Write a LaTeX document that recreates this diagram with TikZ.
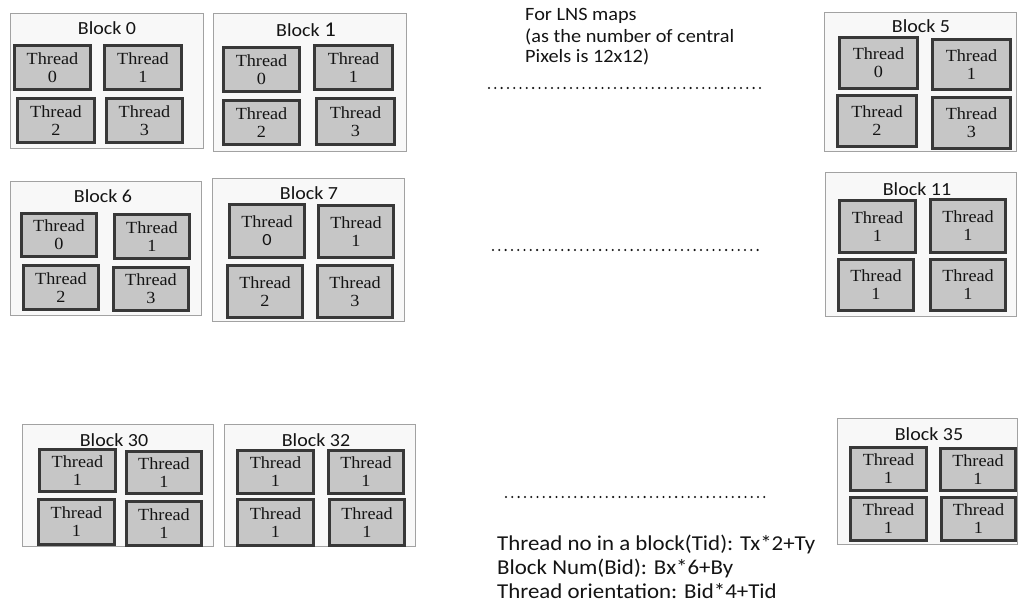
\documentclass[tikz,border=0pt]{standalone}
\usepackage{fontspec}
\setmainfont{Liberation Serif}
\newfontfamily\labelsans[FakeStretch=1.08]{Carlito}
\newfontfamily\threadserif[FakeStretch=1.07]{Liberation Serif}
\definecolor{framegray}{HTML}{A2A2A2}
\definecolor{framefill}{HTML}{F8F8F8}
\definecolor{threadfill}{HTML}{C6C6C6}
\definecolor{threadline}{HTML}{383838}
\definecolor{inktext}{HTML}{141414}
\tikzset{
  blockbox/.style={draw=framegray, line width=1pt, fill=framefill, inner sep=0pt},
  thread/.style={draw=threadline, line width=2.6pt, fill=threadfill, inner sep=0pt,
    align=center, text=inktext, font=\threadserif\fontsize{17}{18}\selectfont},
  blocktitle/.style={anchor=base, inner sep=0pt, text=inktext,
    font=\labelsans\fontsize{18.5}{20}\selectfont},
  % multi-line notes: the base anchor sits on the last line
  note/.style={anchor=base west, inner sep=0pt, text=inktext, align=left},
  dotrow/.style={draw=inktext, line width=2.3pt, dash pattern=on 0pt off 6.3pt, line cap=round}
}
% block frame: name, x1, y1, x2, y2
\newcommand\blockframe[5]{%
  \node[blockbox, minimum width={#4-#2-1}, minimum height={#5-#3-1}]
    (#1) at ({(#2+#4)/2},{(#3+#5)/2}) {};}
% thread cell: name, x1, y1, x2, y2, number
\newcommand\threadbox[6]{%
  \node[thread, minimum width={#4-#2-2.6}, minimum height={#5-#3-2.6}]
    (#1) at ({(#2+#4)/2},{(#3+#5)/2}) {Thread\\#6};}
\begin{document}
\begin{tikzpicture}[x=1pt, y=-1pt]
\useasboundingbox[fill=white] (0,0) rectangle (1019,602);

% ---- Block 0
\blockframe{b0}{10}{13}{204}{149}
\node[blocktitle] (b0-t) at (107,35) {Block 0};
\threadbox{b0-0}{13}{44}{92}{91}{0}
\threadbox{b0-1}{103}{44}{183}{91}{1}
\threadbox{b0-2}{16}{97}{96}{144}{2}
\threadbox{b0-3}{105}{97}{184}{144}{3}

% ---- Block 1
\blockframe{b1}{213}{13}{407}{152}
\node[blocktitle] (b1-t) at (306,37) {Block {\fontsize{21}{22}\selectfont 1}};
\threadbox{b1-0}{222}{46}{301}{93}{0}
\threadbox{b1-1}{313}{44}{394}{91}{1}
\threadbox{b1-2}{222}{99}{301}{146}{2}
\threadbox{b1-3}{315}{97}{396}{146}{3}

% ---- Block 5
\blockframe{b5}{824}{12}{1017}{152}
\node[blocktitle] (b5-t) at (921,33) {Block 5};
\threadbox{b5-0}{838}{36}{919}{90}{0}
\threadbox{b5-1}{931}{38}{1012}{91}{1}
\threadbox{b5-2}{836}{94}{918}{148}{2}
\threadbox{b5-3}{931}{96}{1012}{150}{3}

% ---- Block 6
\blockframe{b6}{10}{181}{202}{316}
\node[blocktitle] (b6-t) at (103,202) {Block 6};
\threadbox{b6-0}{20}{212}{98}{258}{0}
\threadbox{b6-1}{113}{213}{191}{260}{1}
\threadbox{b6-2}{22}{264}{100}{311}{2}
\threadbox{b6-3}{112}{266}{190}{312}{3}

% ---- Block 7
\blockframe{b7}{212}{178}{405}{322}
\node[blocktitle] (b7-t) at (309,199) {Block 7};
\threadbox{b7-0}{228}{203}{306}{259}{{\labelsans 0}}
\threadbox{b7-1}{317}{204}{395}{259}{1}
\threadbox{b7-2}{226}{264}{304}{319}{2}
\threadbox{b7-3}{316}{264}{394}{319}{3}

% ---- Block 11
\blockframe{b11}{825}{172}{1017}{317}
\node[blocktitle] (b11-t) at (917,195) {Block 11};
\threadbox{b11-0}{838}{199}{917}{254}{1}
\threadbox{b11-1}{929}{198}{1007}{254}{1}
\threadbox{b11-2}{837}{258}{915}{312}{1}
\threadbox{b11-3}{929}{258}{1007}{312}{1}

% ---- Block 30
\blockframe{b30}{22}{424}{214}{547}
\node[blocktitle] (b30-t) at (114,446) {Block 30};
\threadbox{b30-0}{38}{448}{117}{493}{1}
\threadbox{b30-1}{125}{450}{203}{495}{1}
\threadbox{b30-2}{37}{498}{116}{546}{1}
\threadbox{b30-3}{125}{500}{203}{547}{1}

% ---- Block 32
\blockframe{b32}{224}{424}{416}{547}
\node[blocktitle] (b32-t) at (316,446) {Block 32};
\threadbox{b32-0}{236}{449}{315}{495}{1}
\threadbox{b32-1}{327}{449}{405}{495}{1}
\threadbox{b32-2}{236}{498}{315}{547}{1}
\threadbox{b32-3}{328}{498}{406}{547}{1}

% ---- Block 35
\blockframe{b35}{837}{418}{1018}{545}
\node[blocktitle] (b35-t) at (929,440) {Block 35};
\threadbox{b35-0}{849}{446}{928}{492}{1}
\threadbox{b35-1}{939}{447}{1017}{492}{1}
\threadbox{b35-2}{849}{496}{928}{542}{1}
\threadbox{b35-3}{940}{496}{1017}{542}{1}

% ---- elided blocks between the columns
\coordinate (r1a) at (489,88);  \coordinate (r1b) at (760,88);
\coordinate (r2a) at (493,250); \coordinate (r2b) at (758,250);
\coordinate (r3a) at (506,497); \coordinate (r3b) at (768,497);
\draw[dotrow] (r1a) -- (r1b);
\draw[dotrow] (r2a) -- (r2b);
\draw[dotrow] (r3a) -- (r3b);

% ---- notes
\node[note, font=\labelsans\fontsize{18.8}{21}\selectfont]
  (lns) at (525,63) {For LNS maps\\(as the number of central\\Pixels is 12x12)};
\node[note, font=\labelsans\fontsize{21.2}{24}\selectfont]
  (idx) at (497,598) {Thread no in a block(Tid): Tx*2+Ty\\Block Num(Bid): Bx*6+By\\Thread orientation: Bid*4+Tid};
\end{tikzpicture}
\end{document}
